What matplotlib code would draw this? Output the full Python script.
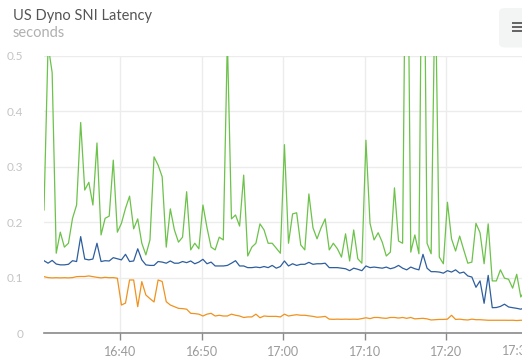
import numpy as np
import pandas as pd
import matplotlib
matplotlib.use('Agg')
import matplotlib.pyplot as plt
import matplotlib.dates as mdates
from matplotlib.patches import FancyBboxPatch, Rectangle

plt.rcParams['font.family'] = ['Lato', 'DejaVu Sans']

title = 'US Dyno SNI Latency'
unit = 'seconds'

# one sample every 30 s, starting 16:30:40
times = pd.date_range('2016-01-01 16:30:40', periods=119, freq='30s')

green = [0.222, 0.52, 0.47, 0.144, 0.182, 0.155, 0.162, 0.207, 0.231, 0.38,
         0.258, 0.272, 0.231, 0.343, 0.177, 0.207, 0.211, 0.312, 0.182, 0.198,
         0.225, 0.247, 0.188, 0.206, 0.162, 0.141, 0.168, 0.318, 0.303, 0.282,
         0.155, 0.224, 0.186, 0.164, 0.173, 0.255, 0.15, 0.162, 0.152, 0.231,
         0.19, 0.155, 0.15, 0.173, 0.168, 0.53, 0.206, 0.213, 0.193, 0.285,
         0.139, 0.155, 0.162, 0.197, 0.186, 0.162, 0.162, 0.153, 0.144, 0.34,
         0.162, 0.215, 0.217, 0.159, 0.15, 0.251, 0.19, 0.17, 0.19, 0.206,
         0.15, 0.162, 0.152, 0.137, 0.179, 0.13, 0.186, 0.134, 0.126, 0.348,
         0.198, 0.168, 0.181, 0.164, 0.139, 0.146, 0.262, 0.166, 0.162, 0.95,
         0.146, 0.177, 0.143, 0.95, 0.162, 0.143, 0.65, 0.137, 0.125, 0.236,
         0.17, 0.148, 0.175, 0.15, 0.126, 0.128, 0.198, 0.181, 0.125, 0.197,
         0.094, 0.094, 0.114, 0.099, 0.097, 0.081, 0.106, 0.065, 0.077]

blue = [0.1305, 0.126, 0.131, 0.1245, 0.123, 0.123, 0.124, 0.1305, 0.129, 0.174,
        0.1335, 0.132, 0.1335, 0.162, 0.129, 0.1305, 0.13, 0.136, 0.134, 0.132,
        0.142, 0.129, 0.13, 0.152, 0.132, 0.123, 0.122, 0.122, 0.129, 0.128,
        0.126, 0.13, 0.126, 0.126, 0.129, 0.127, 0.13, 0.125, 0.128, 0.133,
        0.125, 0.128, 0.121, 0.121, 0.121, 0.122, 0.126, 0.1305, 0.121, 0.121,
        0.118, 0.118, 0.119, 0.118, 0.12, 0.118, 0.122, 0.117, 0.12, 0.13,
        0.121, 0.125, 0.122, 0.124, 0.124, 0.1275, 0.124, 0.125, 0.125, 0.126,
        0.118, 0.118, 0.118, 0.117, 0.116, 0.1125, 0.117, 0.115, 0.1125, 0.121,
        0.118, 0.119, 0.118, 0.117, 0.119, 0.116, 0.118, 0.122, 0.117, 0.114,
        0.119, 0.116, 0.114, 0.142, 0.117, 0.1107, 0.1107, 0.11, 0.108, 0.1125,
        0.11, 0.114, 0.108, 0.11, 0.103, 0.101, 0.0825, 0.094, 0.0536, 0.104,
        0.0457, 0.046, 0.048, 0.052, 0.047, 0.0457, 0.0445, 0.043, 0.0457]

orange = [0.1017, 0.1, 0.0995, 0.0998, 0.0995, 0.0998, 0.0995, 0.1, 0.1017, 0.102,
          0.102, 0.103, 0.1017, 0.1005, 0.0995, 0.1005, 0.0998, 0.1, 0.0989, 0.0505,
          0.054, 0.0957, 0.0957, 0.0475, 0.0927, 0.0686, 0.062, 0.056, 0.0957, 0.093,
          0.0565, 0.0505, 0.0475, 0.0445, 0.044, 0.043, 0.0355, 0.035, 0.034, 0.0307,
          0.034, 0.0355, 0.0307, 0.032, 0.0307, 0.0307, 0.034, 0.032, 0.0307, 0.028,
          0.029, 0.029, 0.034, 0.0275, 0.0307, 0.03, 0.03, 0.03, 0.029, 0.034,
          0.0307, 0.032, 0.033, 0.032, 0.032, 0.031, 0.03, 0.0285, 0.029, 0.03,
          0.025, 0.0247, 0.025, 0.0247, 0.025, 0.0247, 0.025, 0.0247, 0.026, 0.0275,
          0.026, 0.028, 0.028, 0.027, 0.0265, 0.028, 0.028, 0.027, 0.028, 0.0265,
          0.028, 0.0255, 0.026, 0.0265, 0.0255, 0.0235, 0.024, 0.0245, 0.0245, 0.025,
          0.032, 0.0245, 0.025, 0.024, 0.0235, 0.025, 0.024, 0.024, 0.0235, 0.023,
          0.023, 0.023, 0.023, 0.023, 0.0229, 0.023, 0.0225, 0.023, 0.0229]

yticks = [0, 0.1, 0.2, 0.3, 0.4, 0.5]
ylabels = ['0', '0.1', '0.2', '0.3', '0.4', '0.5']
last_label = '17:30'   # pushed in against the right edge, like the widget does

W, H = 522, 362
fig = plt.figure(figsize=(W / 100, H / 100), dpi=100)
# axes run a little past the right edge, like the original widget
ax = fig.add_axes([44 / W, (H - 333) / H, (530 - 44) / W, 277 / H])

ax.plot(times, green, color='#6cc24a', lw=0.9, zorder=3)
ax.plot(times, blue, color='#2e5e9e', lw=0.9, zorder=4)
ax.plot(times, orange, color='#f0921e', lw=0.9, zorder=5)

ax.set_ylim(0, 0.5)
t0 = times[0]
ax.set_xlim(t0, t0 + pd.Timedelta(minutes=59.63))

ax.set_yticks(yticks)
ax.set_yticklabels(ylabels)
ax.xaxis.set_major_locator(mdates.MinuteLocator(byminute=range(0, 60, 10)))
datefmt = mdates.DateFormatter('%H:%M')
ax.xaxis.set_major_formatter(
    plt.FuncFormatter(lambda v, p: '' if datefmt(v) == last_label else datefmt(v)))

ax.grid(True, color='#ececec', lw=1.0, zorder=0)
for s in ['top', 'right', 'left']:
    ax.spines[s].set_visible(False)
ax.spines['bottom'].set_color('#8a8a8a')
ax.spines['bottom'].set_linewidth(1.2)
ax.tick_params(axis='y', length=0, pad=15, labelsize=8.5, labelcolor='#c4c4c4')
ax.tick_params(axis='x', length=5, width=1, color='#8a8a8a', pad=4,
               labelsize=9, labelcolor='#9a9a9a')
for lab in ax.get_yticklabels():
    lab.set_horizontalalignment('right')

fig.text(502 / W, 1 - 351 / H, last_label, fontsize=9, color='#9a9a9a',
         va='center', ha='left')

fig.text(13 / W, 1 - 16 / H, title, fontsize=10.5, color='#555555', va='center')
fig.text(13 / W, 1 - 33 / H, unit, fontsize=10.5, color='#b0b0b0', va='center')

# menu button in the corner
btn = FancyBboxPatch((499 / W, 1 - 47.5 / H), 40 / W, 39.5 / H,
                     boxstyle='round,pad=0,rounding_size=0.012',
                     transform=fig.transFigure, facecolor='#f3f4f4',
                     edgecolor='none')
fig.patches.append(btn)
for yb in [22, 26.3, 30.3]:
    fig.patches.append(Rectangle((512 / W, 1 - (yb + 2) / H), 12 / W, 2 / H,
                                 transform=fig.transFigure, facecolor='#666666',
                                 edgecolor='none'))

fig.savefig('out.png', dpi=100)
